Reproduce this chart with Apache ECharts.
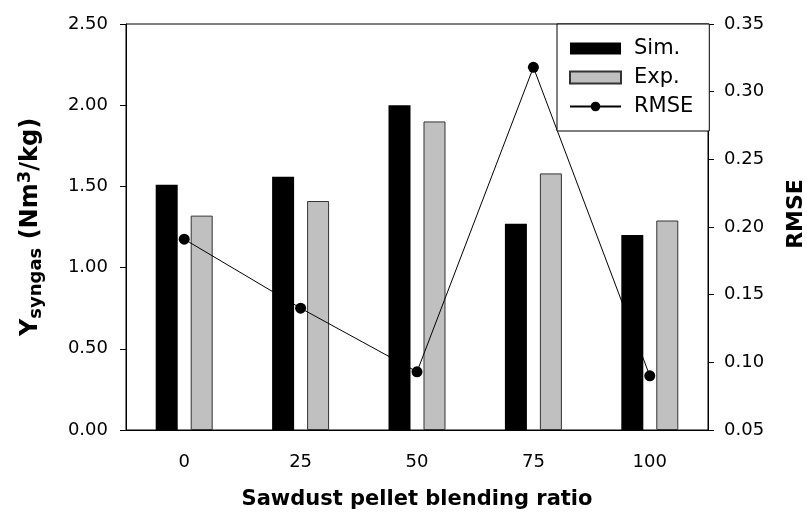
<!DOCTYPE html>
<html>
<head>
<meta charset="utf-8">
<script src="https://cdn.jsdelivr.net/npm/echarts@6/dist/echarts.min.js"></script>
<style>
  html, body { margin: 0; padding: 0; background: #fff; }
  #chart { width: 807px; height: 517px; }
</style>
</head>
<body>
<div id="chart"></div>
<script>
// blending ratio categories
const categories = ['0', '25', '50', '75', '100'];
// Y syngas (Nm3/kg)
const simValues = [1.51, 1.56, 2.00, 1.27, 1.20];
const expValues = [1.32, 1.41, 1.90, 1.58, 1.29];
// RMSE (right axis)
const rmseValues = [0.191, 0.140, 0.093, 0.318, 0.090];
// axis ranges: min, max, interval
const leftAxisRange = [0, 2.5, 0.5];
const rightAxisRange = [0.05, 0.35, 0.05];

const FONT = 'DejaVu Sans';

function setChart() {
  const chart = echarts.init(document.getElementById('chart'));
  chart.setOption({
    animation: false,
    textStyle: { fontFamily: FONT, color: '#000' },
    grid: {
      left: 126,
      right: 99,
      top: 24,
      bottom: 87,
      outerBoundsMode: 'none', // 不要自動縮 grid
      show: true, // 畫出整個框
      borderColor: '#000',
      borderWidth: 1,
      backgroundColor: 'transparent'
    },
    legend: {
      orient: 'vertical',
      left: 557,
      top: 24,
      padding: [14, 16, 14, 12],
      itemGap: 8,
      itemWidth: 51,
      itemHeight: 12,
      backgroundColor: '#fff',
      borderColor: '#000',
      borderWidth: 1,
      borderRadius: 0,
      textStyle: { fontFamily: FONT, fontSize: 21, lineHeight: 20, color: '#000', padding: [0, 0, 0, 8] },
      data: [
        { name: 'Sim.', icon: 'rect' },
        { name: 'Exp.', icon: 'rect' },
        { name: 'RMSE' }
      ]
    },
    xAxis: {
      type: 'category',
      data: categories,
      name: 'Sawdust pellet blending ratio',
      nameLocation: 'middle',
      nameGap: 59,
      nameTextStyle: { fontFamily: FONT, fontSize: 21, fontWeight: 'bold', color: '#000' },
      axisLine: { lineStyle: { color: '#000', width: 1 } },
      axisTick: { alignWithLabel: true, length: 6, lineStyle: { color: '#000' } },
      axisLabel: { fontFamily: FONT, fontSize: 18, color: '#000', margin: 23 }
    },
    yAxis: [
      {
        type: 'value',
        position: 'left',
        min: leftAxisRange[0],
        max: leftAxisRange[1],
        interval: leftAxisRange[2],
        name: '{b|Y}{sub|syngas}{b| (Nm}{sup|3}{b|/kg)}',
        nameLocation: 'middle',
        nameGap: 80,
        nameTextStyle: {
          rich: {
            b: { fontFamily: FONT, fontSize: 24, fontWeight: 'bold', color: '#000' },
            sub: { fontFamily: FONT, fontSize: 18, fontWeight: 'bold', color: '#000', padding: [10, 0, 0, 0] },
            sup: { fontFamily: FONT, fontSize: 18, fontWeight: 'bold', color: '#000', padding: [0, 0, 12, 0] }
          }
        },
        axisLine: { show: true, lineStyle: { color: '#000', width: 1 } },
        axisTick: { show: true, length: 6, lineStyle: { color: '#000' } },
        axisLabel: { fontFamily: FONT, fontSize: 18, color: '#000', margin: 18, formatter: v => v.toFixed(2) },
        splitLine: { show: false }
      },
      {
        type: 'value',
        position: 'right',
        min: rightAxisRange[0],
        max: rightAxisRange[1],
        interval: rightAxisRange[2],
        name: 'RMSE',
        nameLocation: 'middle',
        nameRotate: 90,
        nameGap: 77,
        nameTextStyle: { fontFamily: FONT, fontSize: 22, fontWeight: 'bold', color: '#000', padding: [0, 0, 0, 26] },
        axisLine: { show: true, lineStyle: { color: '#000', width: 1 } },
        axisTick: { show: true, length: 6, lineStyle: { color: '#000' } },
        axisLabel: { fontFamily: FONT, fontSize: 18, color: '#000', margin: 16, formatter: v => v.toFixed(2) },
        splitLine: { show: false }
      }
    ],
    series: [
      {
        name: 'Sim.',
        type: 'bar',
        yAxisIndex: 0,
        barWidth: 22,
        barGap: '59%',
        itemStyle: { color: '#000' },
        data: simValues
      },
      {
        name: 'Exp.',
        type: 'bar',
        yAxisIndex: 0,
        barWidth: 22,
        barGap: '59%',
        itemStyle: { color: '#c0c0c0', borderColor: '#333', borderWidth: 1 },
        data: expValues
      },
      {
        name: 'RMSE',
        type: 'line',
        yAxisIndex: 1,
        symbol: 'circle',
        symbolSize: 11,
        lineStyle: { color: '#000', width: 1 },
        itemStyle: { color: '#000' },
        data: rmseValues
      }
    ]
  });
}

setChart();
</script>
</body>
</html>
